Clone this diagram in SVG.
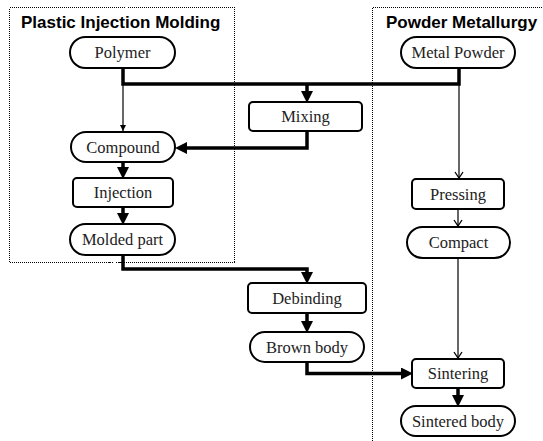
<svg xmlns="http://www.w3.org/2000/svg" width="543" height="441" viewBox="0 0 543 441">
  <defs>
    <style>
      .frame { fill: none; stroke: #000; stroke-width: 1; stroke-dasharray: 1 1; shape-rendering: crispEdges; }
      .title { font-family: "Liberation Sans", Arial, sans-serif; font-weight: bold; font-size: 17px; fill: #000; }
      .node rect { fill: #fff; stroke: #000; stroke-width: 2; }
      .node text { font-family: "Liberation Serif", "Times New Roman", serif; font-size: 16.5px; fill: #222; text-anchor: middle; }
      .thick { fill: none; stroke: #000; stroke-width: 3.5; }
      .thin { fill: none; stroke: #000; stroke-width: 1.2; }
    </style>
    <marker id="bigArrow" markerUnits="userSpaceOnUse" markerWidth="12" markerHeight="12" viewBox="0 0 11 11" refX="0" refY="5.5" orient="auto">
      <path d="M0,0 L11,5.5 L0,11 z" fill="#000"/>
    </marker>
    <marker id="smallArrow" markerUnits="userSpaceOnUse" markerWidth="6" markerHeight="6" viewBox="0 0 6 6" refX="6" refY="3" orient="auto">
      <path d="M0,0 L6,3 L0,6 z" fill="#000"/>
    </marker>
    <marker id="openArrow" markerUnits="userSpaceOnUse" markerWidth="8" markerHeight="10" viewBox="0 0 8 10" refX="7" refY="5" orient="auto">
      <path d="M1,1 L7,5 L1,9" fill="none" stroke="#000" stroke-width="1.3"/>
    </marker>
  </defs>

  <!-- process group frames -->
  <g id="frames">
    <rect class="frame" x="9.5" y="7.5" width="225" height="255"/>
    <path class="frame" d="M372.5,441 V7.5 H543"/>
    <text class="title" x="21" y="28">Plastic Injection Molding</text>
    <text class="title" x="386" y="28">Powder Metallurgy</text>
  </g>

  <!-- connectors -->
  <g id="connectors">
    <path class="thick" d="M123,68 V84 H459 V68"/>
    <path class="thick" d="M307,84 V91" marker-end="url(#bigArrow)"/>
    <path class="thin" d="M123,84 V131" marker-end="url(#smallArrow)"/>
    <path class="thick" d="M307,131 V148 H187" marker-end="url(#bigArrow)"/>
    <path class="thick" d="M123,162 V167" marker-end="url(#bigArrow)"/>
    <path class="thick" d="M123,207 V213" marker-end="url(#bigArrow)"/>
    <path class="thick" d="M123,255 V269 H307 V272" marker-end="url(#bigArrow)"/>
    <path class="thick" d="M307,313 V321" marker-end="url(#bigArrow)"/>
    <path class="thick" d="M307,362 V373.5 H401" marker-end="url(#bigArrow)"/>
    <path class="thick" d="M458,388 V395" marker-end="url(#bigArrow)"/>
    <path class="thin" d="M459,84 V178" marker-end="url(#openArrow)"/>
    <path class="thin" d="M458,209 V226" marker-end="url(#openArrow)"/>
    <path class="thin" d="M458,258 V358" marker-end="url(#openArrow)"/>
  </g>

  <!-- nodes -->
  <g id="polymer" class="node">
    <rect x="70" y="37" width="105" height="31" rx="15.5"/>
    <text x="122.5" y="58">Polymer</text>
  </g>
  <g id="metal-powder" class="node">
    <rect x="401" y="37" width="114" height="31" rx="15.5"/>
    <text x="458" y="58">Metal Powder</text>
  </g>
  <g id="mixing" class="node">
    <rect x="249" y="102" width="113" height="29" rx="4"/>
    <text x="305.5" y="122">Mixing</text>
  </g>
  <g id="compound" class="node">
    <rect x="71" y="132" width="104" height="30" rx="15"/>
    <text x="123" y="152.5">Compound</text>
  </g>
  <g id="injection" class="node">
    <rect x="73" y="178" width="100" height="29" rx="4"/>
    <text x="123" y="198">Injection</text>
  </g>
  <g id="molded-part" class="node">
    <rect x="70" y="224" width="105" height="31" rx="15.5"/>
    <text x="122.5" y="245">Molded part</text>
  </g>
  <g id="pressing" class="node">
    <rect x="412" y="179" width="92" height="30" rx="4"/>
    <text x="458" y="199.5">Pressing</text>
  </g>
  <g id="compact" class="node">
    <rect x="407" y="227" width="103" height="31" rx="15.5"/>
    <text x="458.5" y="248">Compact</text>
  </g>
  <g id="debinding" class="node">
    <rect x="248" y="283" width="118" height="30" rx="4"/>
    <text x="307" y="303.5">Debinding</text>
  </g>
  <g id="brown-body" class="node">
    <rect x="250" y="332" width="114" height="30" rx="15"/>
    <text x="307" y="352.5">Brown body</text>
  </g>
  <g id="sintering" class="node">
    <rect x="412" y="359" width="92" height="29" rx="4"/>
    <text x="458" y="379">Sintering</text>
  </g>
  <g id="sintered-body" class="node">
    <rect x="401" y="406" width="114" height="30" rx="15"/>
    <text x="458" y="426.5">Sintered body</text>
  </g>
</svg>
